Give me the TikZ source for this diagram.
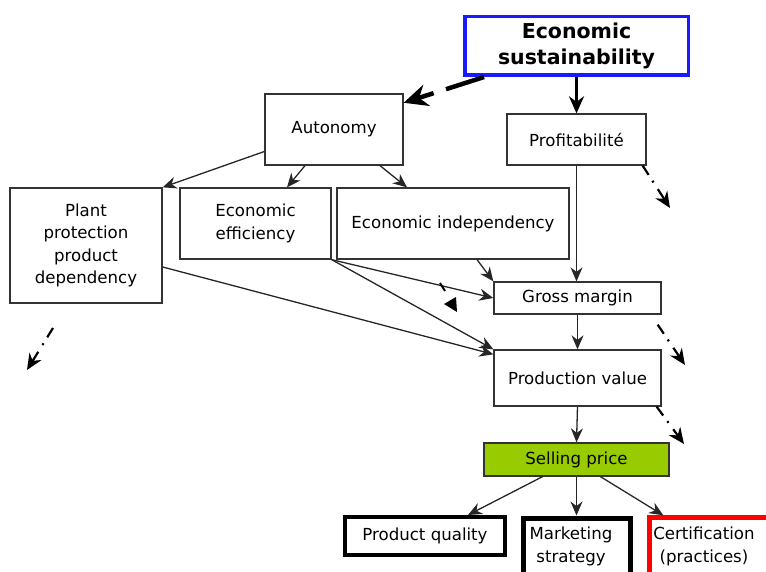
\documentclass[tikz,border=0pt]{standalone}
\usepackage{fontspec}
\setmainfont{DejaVu Sans}
\usetikzlibrary{arrows.meta}
\definecolor{selgreen}{HTML}{99CC00}
\definecolor{bord}{HTML}{333333}
\definecolor{econblue}{HTML}{1A1AFF}
\definecolor{certred}{HTML}{FF0000}
\begin{document}
\begin{tikzpicture}[x=1pt,y=-1pt,
  box/.style={draw=bord,line width=1.3pt,fill=white,inner sep=0pt,align=center,
    font=\fontsize{16.6}{22.5}\selectfont},
  txt/.style={inner sep=0pt,align=center,font=\fontsize{16.6}{22.5}\selectfont},
  conn/.style={draw=black!85,line width=1.3pt,-{Stealth[length=14pt,width=12pt]}},
  dd/.style={line width=2.2pt,dash pattern=on 11pt off 7pt on 2pt off 8pt on 60pt,
    -{Stealth[length=16pt,width=14pt]}}]
\useasboundingbox (0,0) rectangle (766,572);
\clip (0,0) rectangle (766,572);
% nodes
\node[box,draw=econblue,line width=3.5pt,minimum width=223.5pt,minimum height=58.5pt,
  font=\bfseries\fontsize{20.5}{26}\selectfont] (econ) at (576.5,46) {Economic\\sustainability};
\node[box,minimum width=138pt,minimum height=71pt] (auto) at (334,129.5) {Autonomy};
\node[box,minimum width=139pt,minimum height=51pt] (prof) at (576.5,139.5) {Profitabilité};
\node[box,minimum width=152pt,minimum height=115pt] (plant) at (86,245.5) {Plant\\protection\\product\\dependency};
\node[box,minimum width=151pt,minimum height=71pt] (eff) at (255.5,223.5) {Economic\\efficiency};
\node[box,minimum width=232pt,minimum height=71pt] (indep) at (453,223.5) {Economic independency};
\node[box,minimum width=167pt,minimum height=32pt] (gross) at (577.5,298) {Gross margin};
\node[box,minimum width=167pt,minimum height=56pt] (prodv) at (577.5,378) {Production value};
\node[box,fill=selgreen,minimum width=185pt,minimum height=33pt] (sell) at (576.5,459.5) {Selling price};
\node[box,draw=black,line width=4pt,minimum width=160pt,minimum height=38pt] (qual) at (425,536) {Product quality};
\node[box,draw=black,line width=5pt,minimum width=107pt,minimum height=66pt,anchor=north] (mark) at (577,515.5) {};
\node[txt] (markt) at (571,546.5) {Marketing\\strategy};
\node[box,draw=certred,line width=4.5pt,minimum width=140pt,minimum height=66pt,anchor=north west] (cert) at (647.3,515.3) {};
\node[txt] (certt) at (704,546.5) {Certification\\(practices)};
% main connectors
\draw[line width=4.5pt,dash pattern=on 40pt off 13pt on 80pt,-{Stealth[length=24pt,width=22pt]}] ([xshift=3pt]econ.198.5) -- (auto.21);
\draw[line width=3pt,-{Stealth[length=17pt,width=15pt]}] (econ.south) -- (prof.north);
\draw[conn] ([yshift=-22pt]auto.west) -- (plant.north east);
\draw[conn] ([xshift=-29pt]auto.south) -- ([xshift=31.5pt]eff.north);
\draw[conn] ([xshift=46pt]auto.south) -- ([xshift=-46pt]indep.north);
\draw[conn] (prof.south) -- (prof.south |- gross.north);
\draw[conn] ([xshift=24pt]indep.south) -- (gross.north west);
\draw[conn] (eff.south east) -- (gross.west);
\draw[conn] (eff.south east) -- (prodv.north west);
\draw[conn] ([yshift=-21.5pt]plant.east) -- ([yshift=-5pt]prodv.north west);
\draw[conn] (gross.south) -- (prodv.north);
\draw[conn] (prodv.south) -- (sell.north);
\draw[conn] ([xshift=-34pt]sell.south) -- ([xshift=43pt]qual.north);
\draw[conn] (sell.south) -- (sell.south |- mark.north);
\draw[conn] ([xshift=24pt]sell.south) -- ([xshift=16pt]cert.north west);
% dash-dot arrows with free ends
\coordinate (e1) at (670,208);
\coordinate (e2) at (685,365);
\coordinate (e3) at (684,444);
\coordinate (e4) at (27,370);
\draw[dd] ([xshift=-4pt]prof.south east) -- (e1);
\draw[dd] ([shift={(-4pt,-10pt)}]gross.south east) -- (e2);
\draw[dd] ([xshift=-5pt]prodv.south east) -- (e3);
\draw[dd] (53,328) -- (e4);
% stray small arrow
\draw[line width=2pt] (440,283) -- (445,291);
\fill (444,304) -- (456,297) -- (457,312) -- cycle;
\end{tikzpicture}
\end{document}
